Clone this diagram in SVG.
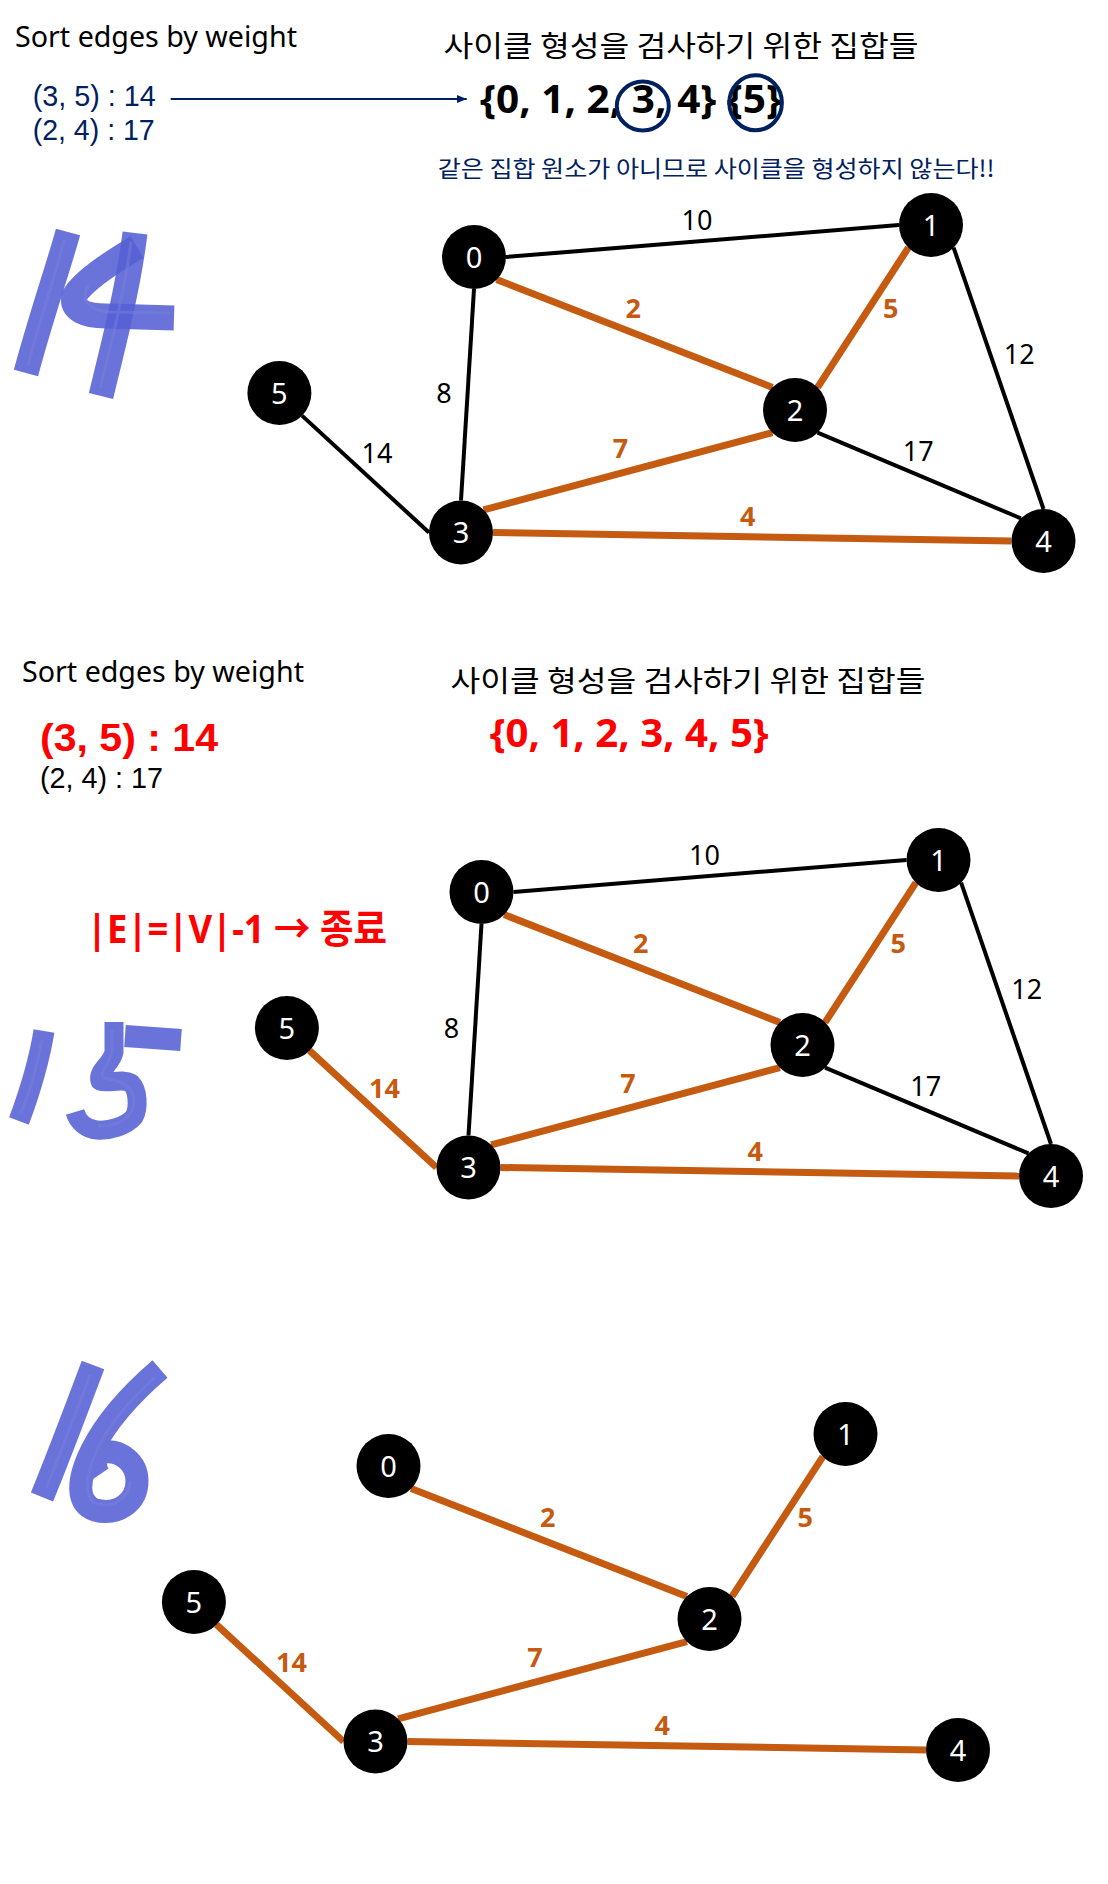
<svg xmlns="http://www.w3.org/2000/svg" width="1108" height="1884" viewBox="0 0 1108 1884">
<style>
text { font-family: "Noto Sans", "Noto Sans CJK KR", sans-serif; }
.ko { font-family: "Noto Sans CJK KR", sans-serif; }
.lib { font-family: "Liberation Sans", "Noto Sans CJK KR", sans-serif; }
.reg { font-size: 29px; fill: #000; }
.navy { fill: #002060; }
.red { fill: #FF0000; font-weight: bold; }
.setb { font-size: 39px; font-weight: bold; }
.node circle { fill: #000; }
.node text { fill: #fff; font-size: 29px; text-anchor: middle; }
.eb { stroke: #000; stroke-width: 4; fill: none; }
.eo { stroke: #C55A11; stroke-width: 7; fill: none; }
.wb { font-size: 27px; fill: #000; text-anchor: middle; }
.wo { font-size: 27px; font-weight: bold; fill: #C55A11; text-anchor: middle; }
.brush { fill: none; stroke: #5560d4; stroke-opacity: 0.88; stroke-linejoin: round; }
.streak { fill: none; stroke: #7a82de; stroke-opacity: 0.45; stroke-width: 3; }
</style>
<defs>
<marker id="ah" viewBox="0 0 10 8" refX="10" refY="4" markerWidth="10" markerHeight="8" markerUnits="userSpaceOnUse" orient="auto">
<path d="M0,0 L10,4 L0,8 z" fill="#002060"/>
</marker>
</defs>
<rect width="1108" height="1884" fill="#fff"/>

<!-- ===== Section 1 ===== -->
<g id="s1-text">
<text class="reg" x="15" y="46.5" textLength="282" lengthAdjust="spacingAndGlyphs">Sort edges by weight</text>
<text class="reg navy lib" x="32.7" y="106" textLength="123" lengthAdjust="spacingAndGlyphs">(3, 5) : 14</text>
<text class="reg navy lib" x="32.7" y="140" textLength="122" lengthAdjust="spacingAndGlyphs">(2, 4) : 17</text>
<text class="reg ko" x="443.5" y="57" textLength="475" lengthAdjust="spacingAndGlyphs">사이클 형성을 검사하기 위한 집합들</text>
<text class="setb" x="480" y="112.7" fill="#000" textLength="302" lengthAdjust="spacingAndGlyphs">{0, 1, 2, 3, 4} {5}</text>
<ellipse cx="642.8" cy="106" rx="26" ry="24.5" fill="none" stroke="#002060" stroke-width="4"/>
<ellipse cx="755.6" cy="102.8" rx="26.3" ry="27.5" fill="none" stroke="#002060" stroke-width="4"/>
<text class="ko navy" x="437.7" y="176.7" font-size="23" textLength="557" lengthAdjust="spacingAndGlyphs">같은 집합 원소가 아니므로 사이클을 형성하지 않는다!!</text>
</g>
<g id="s1-arrow">
<line x1="170.7" y1="99" x2="466.7" y2="99" stroke="#002060" stroke-width="2.2" marker-end="url(#ah)"/>
</g>
<g id="s1-step">
<path class="brush" stroke-width="25" d="M68 232 C60 262 40 320 26 373"/>
<path class="brush" stroke-width="25" d="M135 233 C128 290 112 350 101 396"/>
<path class="brush" stroke-width="25" d="M137 247 C112 262 84 280 74 296 C70 310 86 316 106 316 L174 318"/>
<path class="streak" d="M64 240 C56 275 38 325 28 365 M131 242 C124 295 110 350 100 388 M88 285 C80 300 90 311 110 312 L170 313"/>
</g>
<g id="section1">
<g id="s1-connectors">
<line class="eb" x1="506" y1="257" x2="899" y2="225"/>
<line class="eb" x1="474" y1="289" x2="461" y2="500.5"/>
<line class="eo" x1="496.6" y1="279.6" x2="772.4" y2="387.4"/>
<line class="eo" x1="908.4" y1="247.6" x2="817.6" y2="387.4"/>
<line class="eb" x1="953.6" y1="247.6" x2="1043.5" y2="509"/>
<line class="eb" x1="817.6" y1="432.6" x2="1020.9" y2="518.4"/>
<line class="eo" x1="483.6" y1="509.9" x2="772.4" y2="432.6"/>
<line class="eo" x1="493" y1="532.5" x2="1011.5" y2="541"/>
<line class="eb" x1="302" y1="415.6" x2="429" y2="532.5"/>
<text class="wb" x="697" y="230">10</text>
<text class="wb" x="444" y="402.7">8</text>
<text class="wo" x="633.3" y="318.3">2</text>
<text class="wo" x="890.7" y="318">5</text>
<text class="wb" x="1019.3" y="363.7">12</text>
<text class="wb" x="377" y="463">14</text>
<text class="wo" x="620.5" y="458">7</text>
<text class="wb" x="918.3" y="461.4">17</text>
<text class="wo" x="747.8" y="526.3">4</text>
</g>
<g id="s1-n0" class="node"><circle cx="474" cy="257" r="32"/><text x="474" y="267.5">0</text></g>
<g id="s1-n1" class="node"><circle cx="931" cy="225" r="32"/><text x="931" y="235.5">1</text></g>
<g id="s1-n2" class="node"><circle cx="795" cy="410" r="32"/><text x="795" y="420.5">2</text></g>
<g id="s1-n3" class="node"><circle cx="461" cy="532.5" r="32"/><text x="461" y="543">3</text></g>
<g id="s1-n4" class="node"><circle cx="1043.5" cy="541" r="32"/><text x="1043.5" y="551.5">4</text></g>
<g id="s1-n5" class="node"><circle cx="279.4" cy="393" r="32"/><text x="279.4" y="403.5">5</text></g>
</g>

<!-- ===== Section 2 ===== -->
<g id="s2-text">
<text class="reg" x="22" y="681.7" textLength="282" lengthAdjust="spacingAndGlyphs">Sort edges by weight</text>
<text class="reg ko" x="450.5" y="692" textLength="475" lengthAdjust="spacingAndGlyphs">사이클 형성을 검사하기 위한 집합들</text>
<text class="red setb lib" x="40" y="750.7" textLength="178" lengthAdjust="spacingAndGlyphs">(3, 5) : 14</text>
<text class="reg lib" x="40" y="788" textLength="123" lengthAdjust="spacingAndGlyphs">(2, 4) : 17</text>
<text class="red setb" x="489.7" y="747" textLength="279" lengthAdjust="spacingAndGlyphs">{0, 1, 2, 3, 4, 5}</text>
<text class="red" x="87" y="943" font-size="40" textLength="300" lengthAdjust="spacingAndGlyphs">|E|=|V|-1 → 종료</text>
</g>
<g id="s2-step">
<path class="brush" stroke-width="21" d="M44 1031 C39 1062 29 1094 19 1121"/>
<path class="brush" stroke-width="22" d="M125 1036 L181 1040"/>
<path class="brush" stroke-width="19" d="M114 1022 L114 1052 C112 1064 97 1070 100 1081 C108 1084 122 1078 131 1083 C138 1090 139 1108 134 1117 C126 1126 110 1131 97 1130 C86 1129 78 1122 75 1112"/>
<path class="streak" d="M42 1040 C37 1068 28 1096 21 1113 M112 1030 L112 1052 C109 1066 99 1071 103 1078 C116 1080 132 1082 134 1100 C134 1118 118 1127 98 1126"/>
</g>
<g id="section2" transform="translate(7.5,635)">
<g id="s2-connectors">
<line class="eb" x1="506" y1="257" x2="899" y2="225"/>
<line class="eb" x1="474" y1="289" x2="461" y2="500.5"/>
<line class="eo" x1="496.6" y1="279.6" x2="772.4" y2="387.4"/>
<line class="eo" x1="908.4" y1="247.6" x2="817.6" y2="387.4"/>
<line class="eb" x1="953.6" y1="247.6" x2="1043.5" y2="509"/>
<line class="eb" x1="817.6" y1="432.6" x2="1020.9" y2="518.4"/>
<line class="eo" x1="483.6" y1="509.9" x2="772.4" y2="432.6"/>
<line class="eo" x1="493" y1="532.5" x2="1011.5" y2="541"/>
<line class="eo" x1="302" y1="415.6" x2="429" y2="532.5"/>
<text class="wb" x="697" y="230">10</text>
<text class="wb" x="444" y="402.7">8</text>
<text class="wo" x="633.3" y="318.3">2</text>
<text class="wo" x="890.7" y="318">5</text>
<text class="wb" x="1019.3" y="363.7">12</text>
<text class="wo" x="377" y="463">14</text>
<text class="wo" x="620.5" y="458">7</text>
<text class="wb" x="918.3" y="461.4">17</text>
<text class="wo" x="747.8" y="526.3">4</text>
</g>
<g id="s2-n0" class="node"><circle cx="474" cy="257" r="32"/><text x="474" y="267.5">0</text></g>
<g id="s2-n1" class="node"><circle cx="931" cy="225" r="32"/><text x="931" y="235.5">1</text></g>
<g id="s2-n2" class="node"><circle cx="795" cy="410" r="32"/><text x="795" y="420.5">2</text></g>
<g id="s2-n3" class="node"><circle cx="461" cy="532.5" r="32"/><text x="461" y="543">3</text></g>
<g id="s2-n4" class="node"><circle cx="1043.5" cy="541" r="32"/><text x="1043.5" y="551.5">4</text></g>
<g id="s2-n5" class="node"><circle cx="279.4" cy="393" r="32"/><text x="279.4" y="403.5">5</text></g>
</g>

<!-- ===== Section 3 ===== -->
<g id="s3-step">
<path class="brush" stroke-width="24" d="M93 1365 C78 1405 58 1458 42 1497"/>
<path class="brush" stroke-width="23" d="M160 1369 C132 1393 107 1420 92 1450 C77 1480 76 1503 95 1510 C118 1516 137 1502 137 1481 C137 1462 120 1450 104 1452 C95 1455 93 1466 99 1475"/>
<path class="streak" d="M90 1375 C76 1412 58 1460 46 1488 M154 1378 C130 1400 108 1424 96 1452 C84 1480 84 1500 98 1504 C116 1508 130 1496 130 1481"/>
</g>
<g id="section3" transform="translate(-85.5,1209)">
<g id="s3-connectors">
<line class="eo" x1="496.6" y1="279.6" x2="772.4" y2="387.4"/>
<line class="eo" x1="908.4" y1="247.6" x2="817.6" y2="387.4"/>
<line class="eo" x1="483.6" y1="509.9" x2="772.4" y2="432.6"/>
<line class="eo" x1="493" y1="532.5" x2="1011.5" y2="541"/>
<line class="eo" x1="302" y1="415.6" x2="429" y2="532.5"/>
<text class="wo" x="633.3" y="318.3">2</text>
<text class="wo" x="890.7" y="318">5</text>
<text class="wo" x="377" y="463">14</text>
<text class="wo" x="620.5" y="458">7</text>
<text class="wo" x="747.8" y="526.3">4</text>
</g>
<g id="s3-n0" class="node"><circle cx="474" cy="257" r="32"/><text x="474" y="267.5">0</text></g>
<g id="s3-n1" class="node"><circle cx="931" cy="225" r="32"/><text x="931" y="235.5">1</text></g>
<g id="s3-n2" class="node"><circle cx="795" cy="410" r="32"/><text x="795" y="420.5">2</text></g>
<g id="s3-n3" class="node"><circle cx="461" cy="532.5" r="32"/><text x="461" y="543">3</text></g>
<g id="s3-n4" class="node"><circle cx="1043.5" cy="541" r="32"/><text x="1043.5" y="551.5">4</text></g>
<g id="s3-n5" class="node"><circle cx="279.4" cy="393" r="32"/><text x="279.4" y="403.5">5</text></g>
</g>
</svg>
